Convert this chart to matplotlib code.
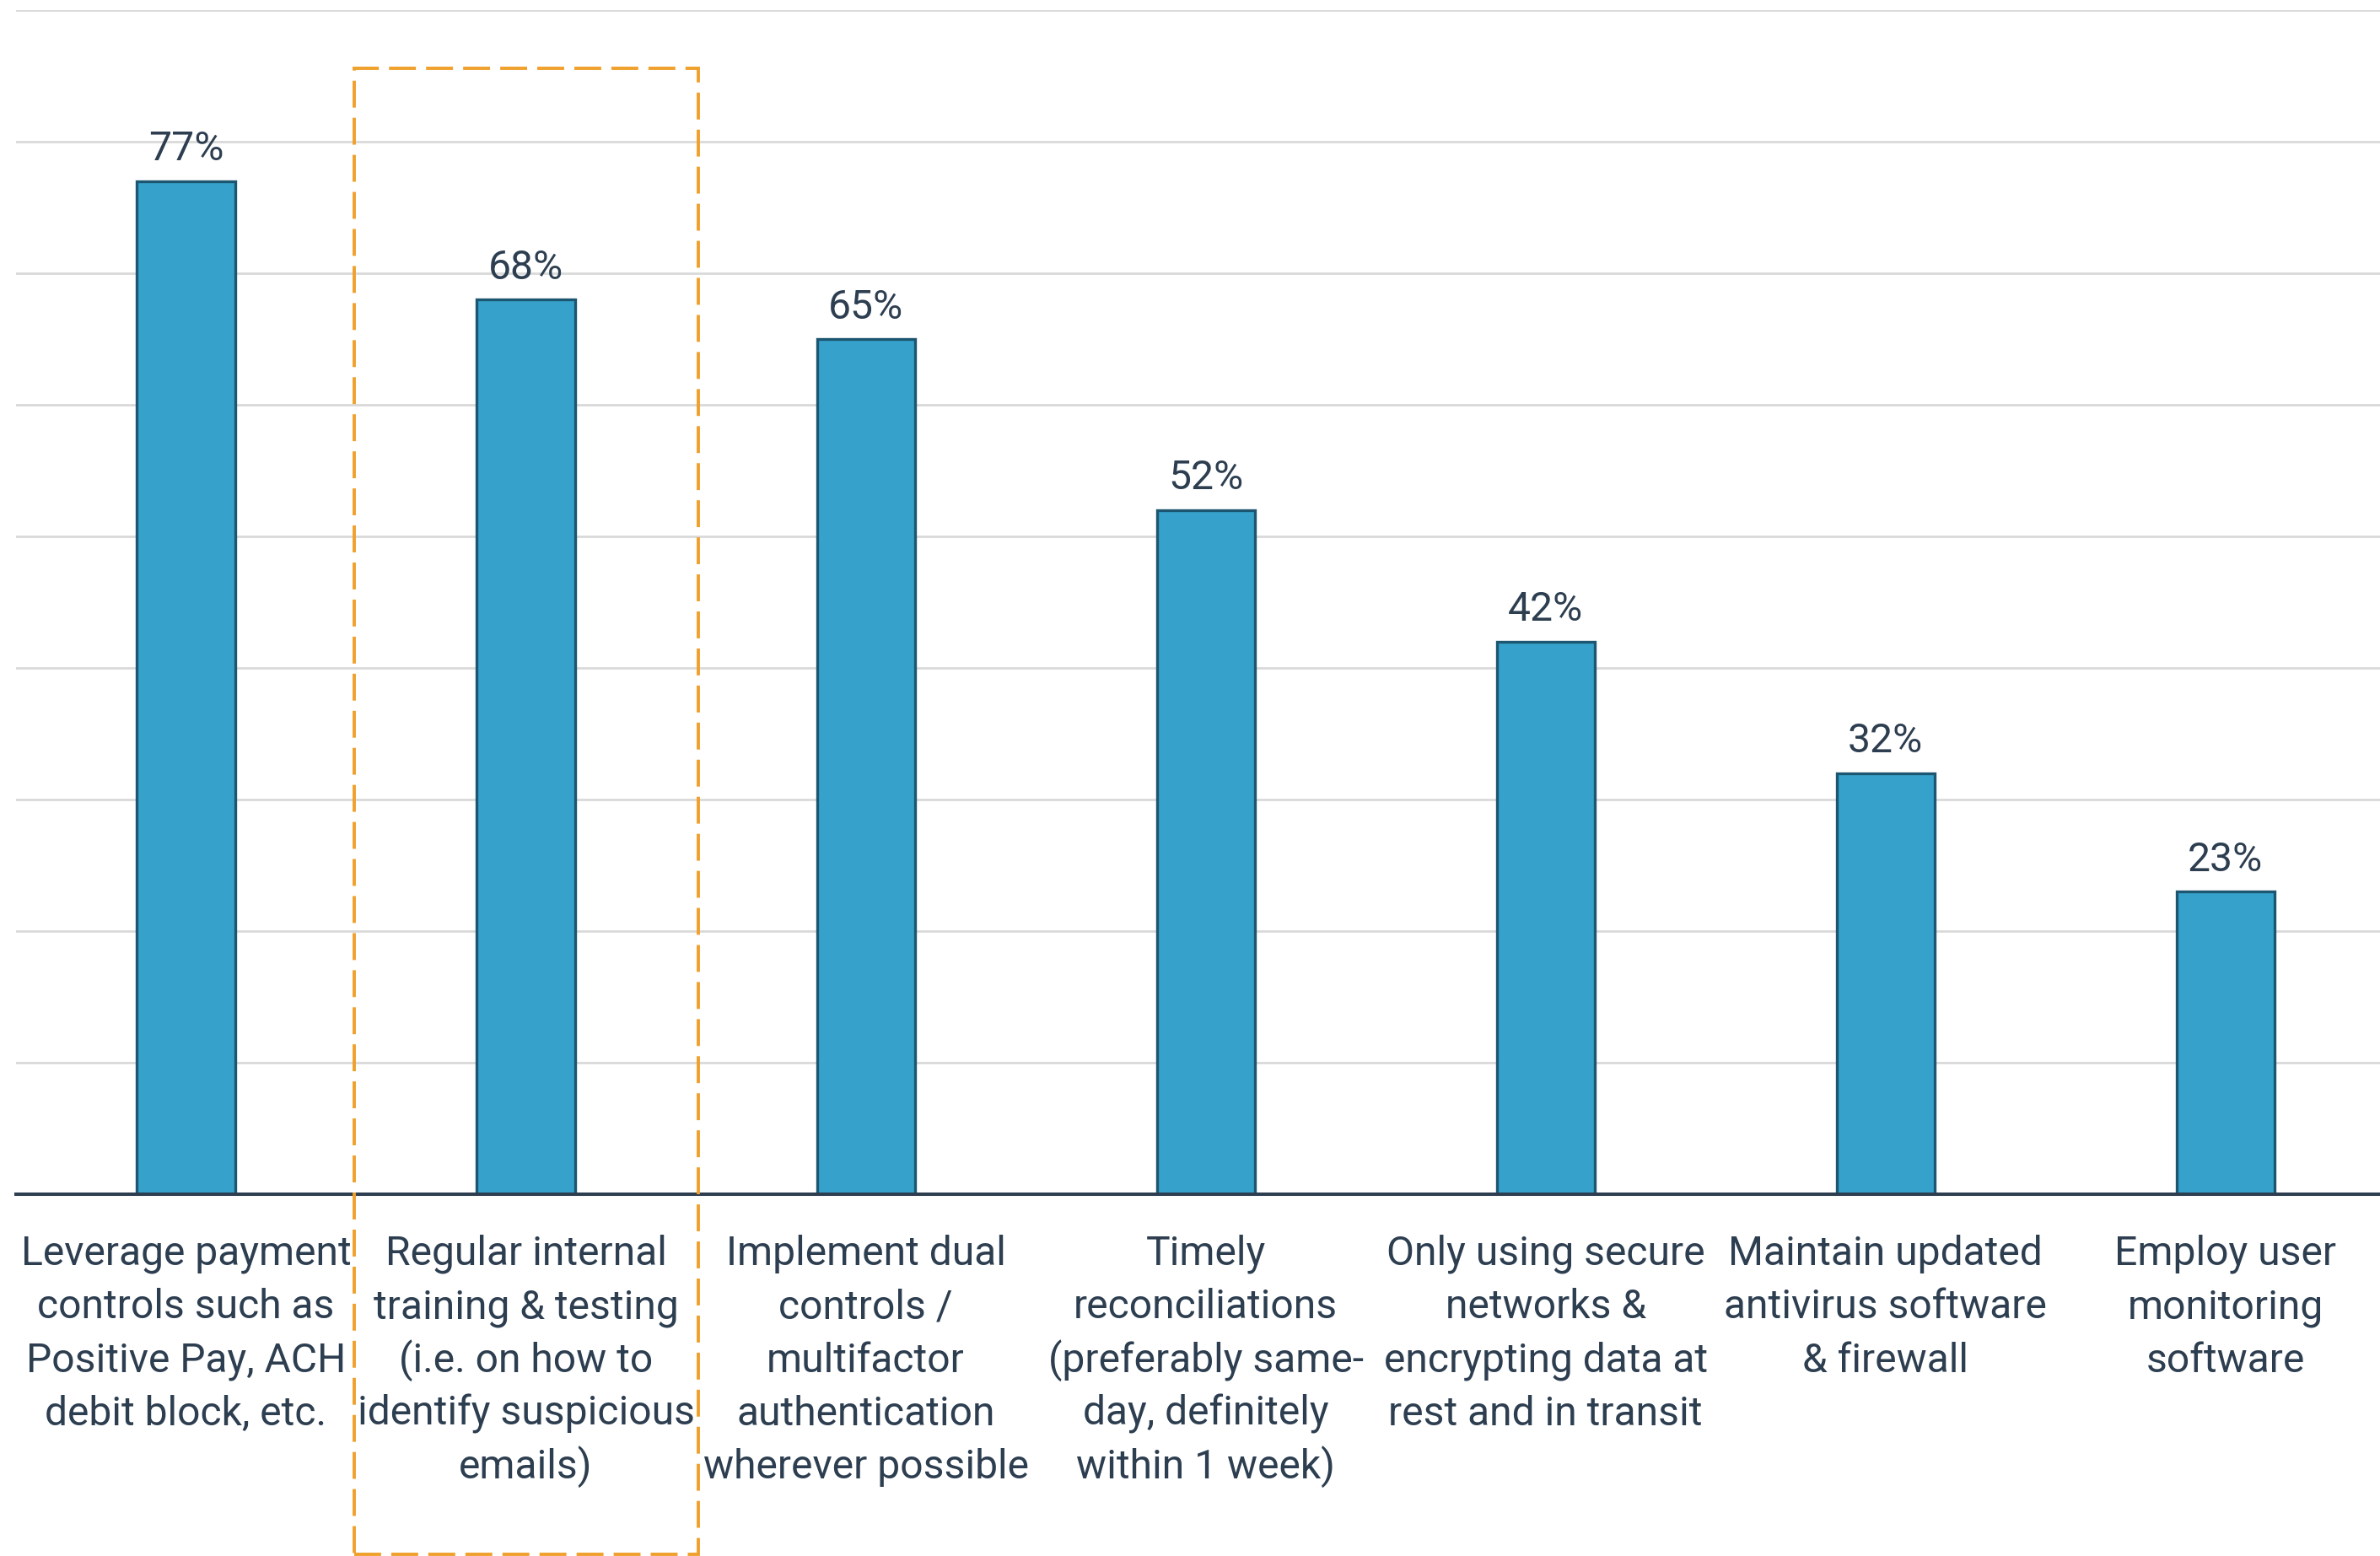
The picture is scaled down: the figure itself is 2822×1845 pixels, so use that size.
import matplotlib.pyplot as plt
from matplotlib.patches import Rectangle

plt.rcParams['font.family'] = ['Roboto', 'DejaVu Sans']

categories = [
    "Leverage payment\ncontrols such as\nPositive Pay, ACH\ndebit block, etc.",
    "Regular internal\ntraining & testing\n(i.e. on how to\nidentify suspicious\nemails)",
    "Implement dual\ncontrols /\nmultifactor\nauthentication\nwherever possible",
    "Timely\nreconciliations\n(preferably same-\nday, definitely\nwithin 1 week)",
    "Only using secure\nnetworks &\nencrypting data at\nrest and in transit",
    "Maintain updated\nantivirus software\n& firewall",
    "Employ user\nmonitoring\nsoftware",
]
values = [77, 68, 65, 52, 42, 32, 23]
gridlines = [10, 20, 30, 40, 50, 60, 70, 80, 90]
highlight = 1

text_color = '#2d3e50'
bar_color = '#36a2cb'
edge_color = '#1d5670'

fig = plt.figure(figsize=(14.11, 9.225), dpi=200)
ax = fig.add_axes([0.00673, 0.2325, 0.99327, 0.7610])

x = range(len(values))
ax.bar(x, values, width=0.288, color=bar_color, edgecolor=edge_color,
       linewidth=1.2, zorder=3)

for g in gridlines:
    ax.axhline(g, color='#d9d9d9', linewidth=1.0, zorder=1)

ax.set_xlim(-0.5, 6.455)
ax.set_ylim(0, 90)
ax.set_xticks([])
ax.set_yticks([])
for side in ['top', 'right', 'left']:
    ax.spines[side].set_visible(False)
ax.spines['bottom'].set_color(text_color)
ax.spines['bottom'].set_linewidth(1.45)
ax.spines['bottom'].set_zorder(4)

# value labels on top of the bars
for i, v in enumerate(values):
    ax.annotate(f"{v}%", xy=(i, v), xytext=(0, 8.8), textcoords='offset points',
                ha='center', va='baseline', fontsize=17.3, color=text_color)

# category labels, one line at a time so spacing stays even
for i, label in enumerate(categories):
    for j, line in enumerate(label.split('\n')):
        ax.annotate(line, xy=(i, 0), xytext=(0, -30.2 - 22.8 * j),
                    textcoords='offset points', ha='center', va='baseline',
                    fontsize=17.3, color=text_color, annotation_clip=False)

# dashed outline around the highlighted category
box = Rectangle((highlight - 0.505, -27.4), 1.012, 113.0, fill=False,
                edgecolor='#f0a02c', linewidth=1.4, linestyle=(0, (8.2, 3.1)),
                clip_on=False, zorder=5)
ax.add_patch(box)

fig.savefig('out.png', dpi=200, facecolor='white')
